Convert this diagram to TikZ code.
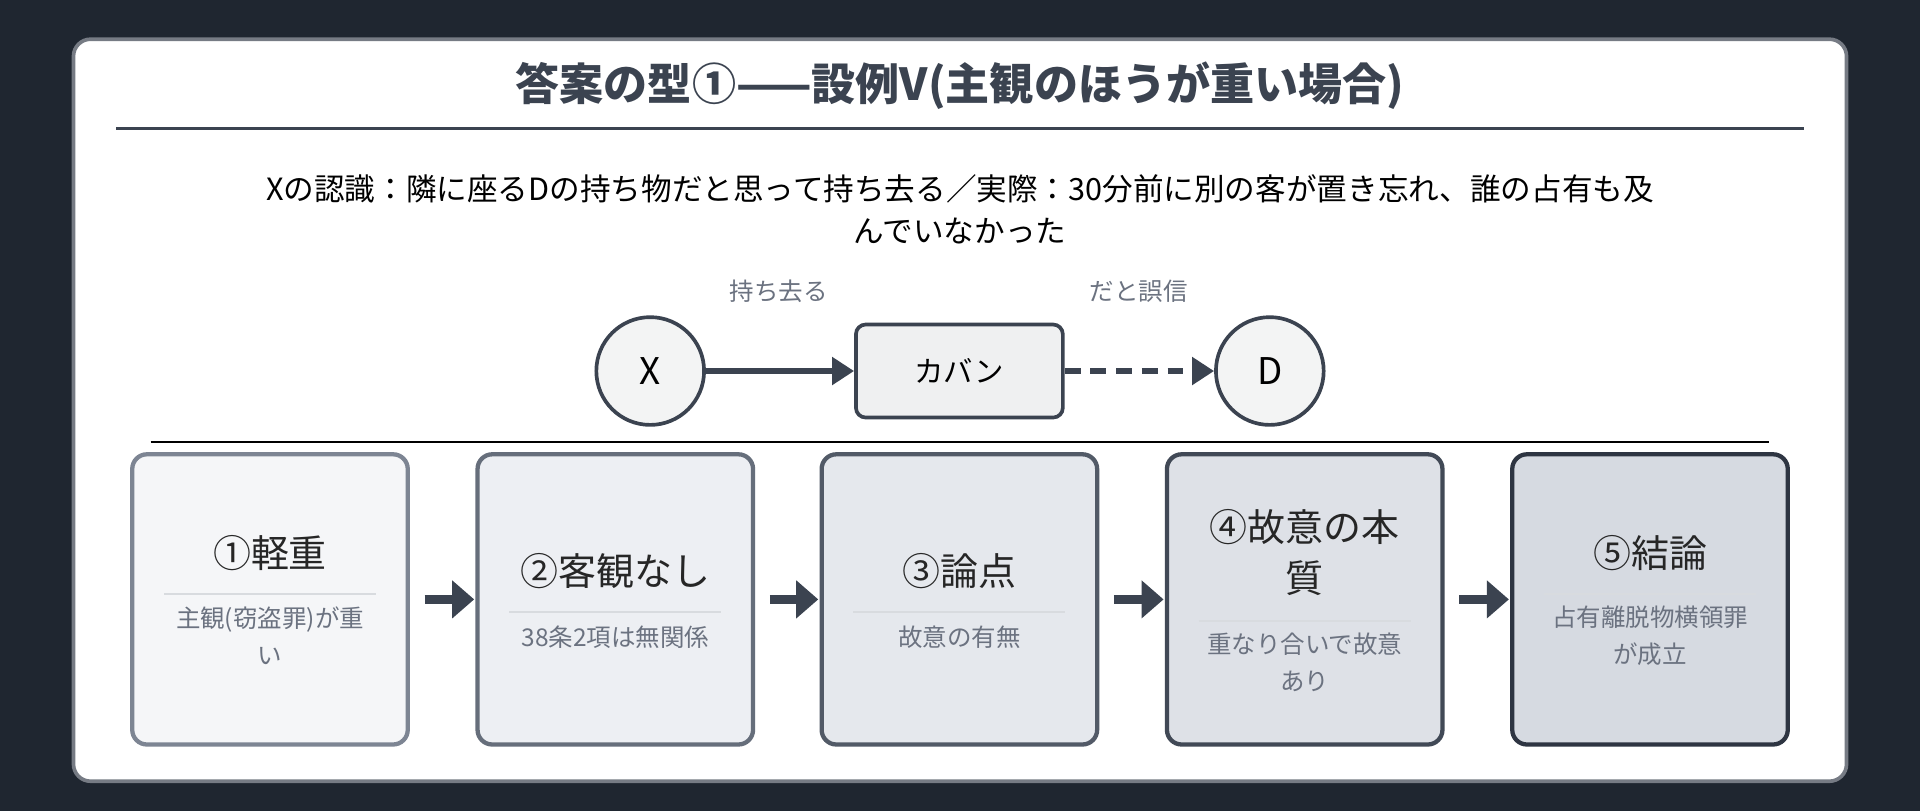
\documentclass[tikz,border=0pt]{standalone}
\usepackage{fontspec}
\setmainfont{Noto Sans CJK JP}
\usetikzlibrary{arrows.meta}
\definecolor{bg}{HTML}{1F2630}
\definecolor{ink}{HTML}{3B4350}
\definecolor{sub}{HTML}{6B7280}
\definecolor{sep}{HTML}{D8DBDF}
\definecolor{fa}{HTML}{F5F6F8}\definecolor{da}{HTML}{7D8593}
\definecolor{fb}{HTML}{EDEFF3}\definecolor{db}{HTML}{666E7B}
\definecolor{fc}{HTML}{E5E8ED}\definecolor{dc}{HTML}{525A67}
\definecolor{fd}{HTML}{DEE1E7}\definecolor{dd}{HTML}{414956}
\definecolor{fe}{HTML}{D6DAE1}\definecolor{de}{HTML}{2E3542}
\newcommand{\fs}[2]{\fontsize{#1}{#2}\selectfont}
\tikzset{
  ent/.style={circle,draw=ink,line width=3pt,fill=white!94!ink,minimum size=88pt,inner sep=0pt,font=\fs{30}{36}},
  obj/.style={rounded corners=8pt,draw=ink,line width=3pt,fill=white!92!ink,minimum width=169pt,minimum height=76pt,font=\fs{24}{30}},
  stepbox/.style={rounded corners=12pt,line width=3.5pt,minimum width=225pt,minimum height=237pt},
  ttl/.style={font=\fs{31}{42},text=black!85,align=center},
  subt/.style={font=\fs{20}{30},text=sub,align=center},
  lbl/.style={font=\fs{20}{24},text=sub},
  flow/.style={-{Triangle[length=18pt,width=30pt]},line width=7pt,draw=ink},
}
\begin{document}
\begin{tikzpicture}[x=1pt,y=-1pt]
\fill[bg] (0,0) rectangle (1568,662);
\useasboundingbox (0,0) rectangle (1568,662);
\draw[fill=white,draw=ink!70,line width=3pt,rounded corners=14pt] (60,32) rectangle (1508,638);
\node[font=\bfseries\fs{36}{40},text=ink] (title) at (784,70) {答案の型①——設例V(主観のほうが重い場合)};
\draw[ink,line width=2pt] (95,105) -- (1473,105);
\node[font=\fs{25}{35},text=black,align=center] (desc) at (784,171) {Xの認識：隣に座るDの持ち物だと思って持ち去る／実際：30分前に別の客が置き忘れ、誰の占有も及\\んでいなかった};
\node[ent] (X) at (531,303) {X};
\node[obj] (bag) at (783.5,303) {カバン};
\node[ent] (D) at (1037,303) {D};
\node[lbl] (l1) at (636,238) {持ち去る};
\node[lbl] (l2) at (930,238) {だと誤信};
\draw[ink,line width=4.5pt,-{Triangle[length=18pt,width=22pt]}] (X) -- (bag);
\draw[ink,line width=4.5pt,dash pattern=on 13pt off 8pt,-{Triangle[length=18pt,width=22pt]}] (bag) -- (D);
\draw[black,line width=1.2pt] (123,361) -- (1445,361);
\node[stepbox,fill=fa,draw=da] (s1) at (220.5,489.5) {};
\node[stepbox,fill=fb,draw=db] (s2) at (502.5,489.5) {};
\node[stepbox,fill=fc,draw=dc] (s3) at (783.5,489.5) {};
\node[stepbox,fill=fd,draw=dd] (s4) at (1065.5,489.5) {};
\node[stepbox,fill=fe,draw=de] (s5) at (1347.5,489.5) {};
\foreach \a/\b in {s1/s2,s2/s3,s3/s4,s4/s5}
  \draw[flow,shorten <=12pt,shorten >=1pt] (\a) -- (\b);
\node[ttl] (t1) at (220.5,452) {①軽重};
\draw[sep,line width=2pt] (134,485) -- (307,485);
\node[subt] (u1) at (220.5,519) {主観(窃盗罪)が重\\い};
\node[ttl] (t2) at (502.5,466) {②客観なし};
\draw[sep,line width=2pt] (416,500) -- (589,500);
\node[subt] (u2) at (502.5,520) {38条2項は無関係};
\node[ttl] (t3) at (783.5,466) {③論点};
\draw[sep,line width=2pt] (697,500) -- (870,500);
\node[subt] (u3) at (783.5,520) {故意の有無};
\node[ttl] (t4) at (1065.5,451) {④故意の本\\質};
\draw[sep,line width=2pt] (979,507) -- (1152,507);
\node[subt] (u4) at (1065.5,541) {重なり合いで故意\\あり};
\node[ttl] (t5) at (1347.5,452) {⑤結論};
\draw[sep,line width=2pt] (1261,485) -- (1434,485);
\node[subt] (u5) at (1347.5,519) {占有離脱物横領罪\\が成立};
\end{tikzpicture}
\end{document}
